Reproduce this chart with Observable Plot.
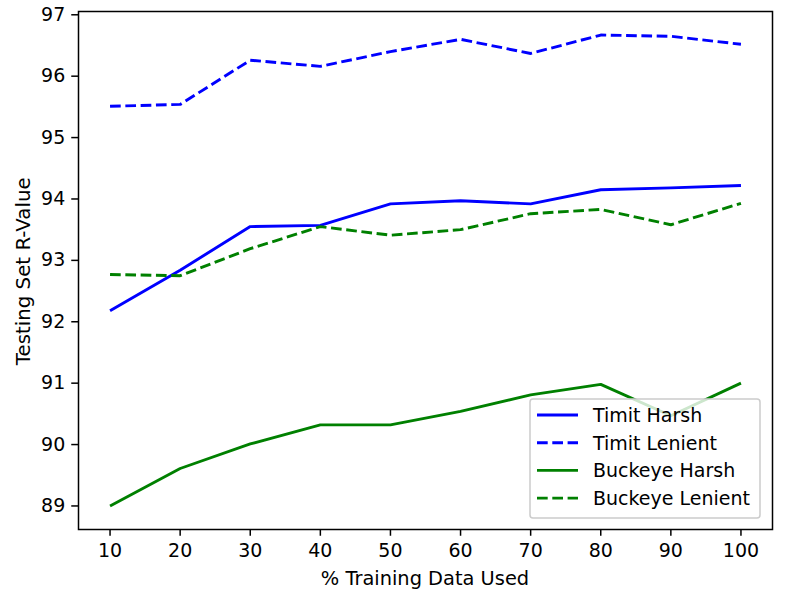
<!DOCTYPE html>
<html>
<head>
<meta charset="utf-8">
<script src="https://cdn.jsdelivr.net/npm/d3@7"></script>
<script src="https://cdn.jsdelivr.net/npm/@observablehq/plot@0.6"></script>
<style>
  html, body { margin: 0; padding: 0; background: #fff; }
  #chart svg { display: block; }
</style>
</head>
<body>
<div id="chart"></div>
<script>
const pct = [10, 20, 30, 40, 50, 60, 70, 80, 90, 100];
const timitHarsh = [92.18, 92.84, 93.55, 93.57, 93.92, 93.97, 93.92, 94.15, 94.18, 94.22];
const timitLenient = [95.51, 95.54, 96.26, 96.16, 96.40, 96.60, 96.37, 96.67, 96.65, 96.52];
const buckeyeHarsh = [89.00, 89.61, 90.01, 90.32, 90.32, 90.54, 90.81, 90.98, 90.47, 91.00];
const buckeyeLenient = [92.77, 92.75, 93.19, 93.55, 93.41, 93.50, 93.76, 93.83, 93.58, 93.93];
const yTicks = [89, 90, 91, 92, 93, 94, 95, 96, 97];

const DASH = "10.7,4.6";
const seriesDefs = [
  {name: "Timit Harsh", values: timitHarsh, color: "#0000ff", dash: null},
  {name: "Timit Lenient", values: timitLenient, color: "#0000ff", dash: DASH},
  {name: "Buckeye Harsh", values: buckeyeHarsh, color: "#008000", dash: null},
  {name: "Buckeye Lenient", values: buckeyeLenient, color: "#008000", dash: DASH}
];

const rows = seriesDefs.flatMap(s => pct.map((p, i) => ({series: s.name, x: p, y: s.values[i]})));

// matplotlib-like 5% margins
const allY = seriesDefs.flatMap(s => s.values);
const [ymin, ymax] = d3.extent(allY);
const ypad = (ymax - ymin) * 0.05;
const [xmin, xmax] = d3.extent(pct);
const xpad = (xmax - xmin) * 0.05;

const FONT = "DejaVu Sans, sans-serif";
const FS = 19;
const LW = 2.9;

const chart = Plot.plot({
  width: 789,
  height: 594,
  marginLeft: 78,
  marginRight: 17,
  marginTop: 11,
  marginBottom: 65,
  style: {fontFamily: FONT, fontSize: FS + "px", color: "black", background: "white"},
  x: {domain: [xmin - xpad, xmax + xpad]},
  y: {domain: [ymin - ypad, ymax + ypad]},
  marks: [
    ...seriesDefs.map(s => Plot.line(rows.filter(r => r.series === s.name), {
      x: "x", y: "y", stroke: s.color, strokeWidth: LW,
      strokeDasharray: s.dash, strokeLinejoin: "round", strokeLinecap: "butt"
    })),
    Plot.frame({stroke: "black", strokeWidth: 1.5}),
    Plot.axisX({ticks: pct, tickSize: 6.75, tickPadding: 7, tickFormat: d => String(d),
      fontSize: FS, strokeWidth: 1.5, label: null}),
    Plot.axisY({ticks: yTicks, tickSize: 6.75, tickPadding: 6.5, tickFormat: d => String(d),
      fontSize: FS, strokeWidth: 1.5, label: null})
  ]
});

document.getElementById("chart").appendChild(chart);

const svg = d3.select(chart);

// axis titles
svg.append("text")
  .attr("x", (78 + 772) / 2).attr("y", 585)
  .attr("text-anchor", "middle")
  .attr("font-family", FONT).attr("font-size", 19.4).attr("fill", "black")
  .text("% Training Data Used");
svg.append("text")
  .attr("transform", `translate(29.5,271.3) rotate(-90)`)
  .attr("text-anchor", "middle")
  .attr("font-family", FONT).attr("font-size", 19.8).attr("fill", "black")
  .text("Testing Set R-Value");

// legend
const lg = svg.append("g");
lg.append("rect")
  .attr("x", 530).attr("y", 399).attr("width", 230).attr("height", 119)
  .attr("rx", 3).attr("fill", "white").attr("fill-opacity", 0.8)
  .attr("stroke", "#cccccc").attr("stroke-width", 1.5);
seriesDefs.forEach((s, i) => {
  const cy = 415 + i * 27.7;
  lg.append("line")
    .attr("x1", 537).attr("x2", 578).attr("y1", cy).attr("y2", cy)
    .attr("stroke", s.color).attr("stroke-width", LW)
    .attr("stroke-dasharray", s.dash);
  lg.append("text")
    .attr("x", 593).attr("y", cy).attr("dy", "0.36em")
    .attr("text-anchor", "start")
    .attr("font-family", FONT).attr("font-size", FS).attr("fill", "black")
    .text(s.name);
});
</script>
</body>
</html>
